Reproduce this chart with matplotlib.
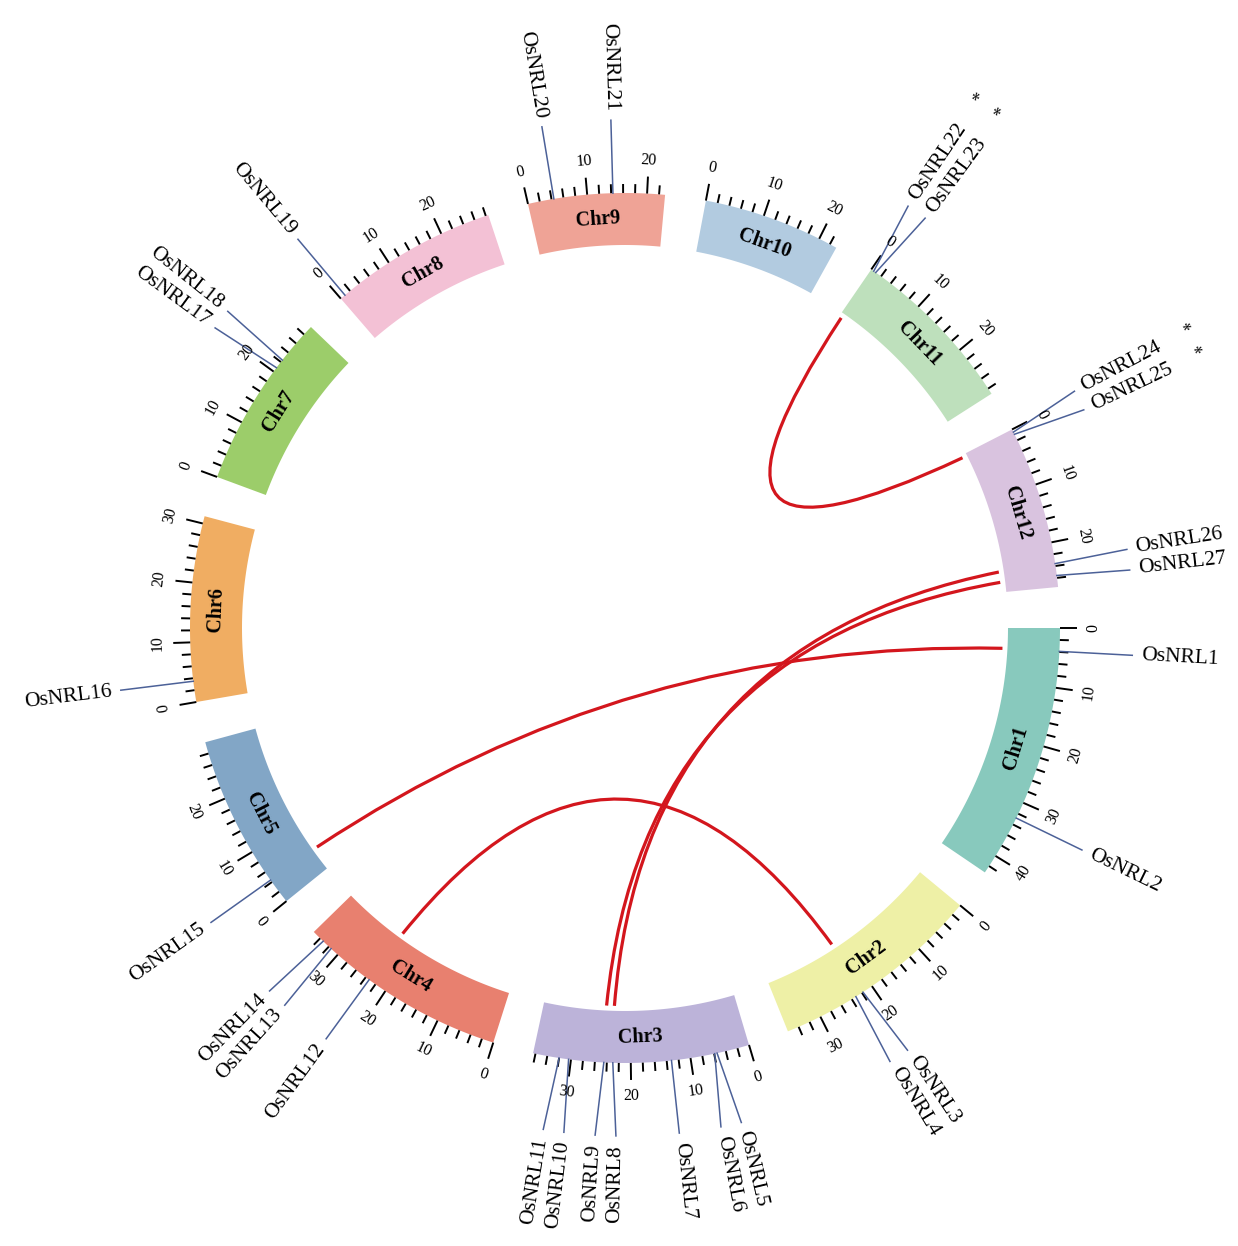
import numpy as np
import matplotlib
matplotlib.use("Agg")
import matplotlib.pyplot as plt
from matplotlib.patches import Polygon, PathPatch
from matplotlib.path import Path

# ---- data -------------------------------------------------------------
chroms = ["Chr1", "Chr2", "Chr3", "Chr4", "Chr5", "Chr6",
          "Chr7", "Chr8", "Chr9", "Chr10", "Chr11", "Chr12"]
chrom_len = [43.27, 35.94, 36.41, 35.50, 29.96, 31.25,
             29.70, 28.44, 23.01, 23.21, 29.02, 27.53]          # Mb
chrom_colors = ["#88C9BD", "#EEF0A6", "#BCB3D9", "#E8806F", "#82A6C6", "#F0AD62",
                "#9CCD6A", "#F3C1D5", "#EFA396", "#B2CBE0", "#BEE0BC", "#D9C3DF"]

genes = ["OsNRL1", "OsNRL2", "OsNRL3", "OsNRL4", "OsNRL5", "OsNRL6", "OsNRL7",
         "OsNRL8", "OsNRL9", "OsNRL10", "OsNRL11", "OsNRL12", "OsNRL13", "OsNRL14",
         "OsNRL15", "OsNRL16", "OsNRL17", "OsNRL18", "OsNRL19", "OsNRL20", "OsNRL21",
         "OsNRL22", "OsNRL23", "OsNRL24", "OsNRL25", "OsNRL26", "OsNRL27"]
gene_chr = ["Chr1", "Chr1", "Chr2", "Chr2", "Chr3", "Chr3", "Chr3",
            "Chr3", "Chr3", "Chr3", "Chr3", "Chr4", "Chr4", "Chr4",
            "Chr5", "Chr6", "Chr7", "Chr7", "Chr8", "Chr9", "Chr9",
            "Chr11", "Chr11", "Chr12", "Chr12", "Chr12", "Chr12"]
gene_pos = [3.9, 32.8, 21.8, 23.2, 5.5, 5.9, 13.2,
            23.0, 24.5, 30.4, 32.0, 23.3, 31.5, 33.3,
            4.4, 3.5, 20.8, 22.4, 0.9, 4.4, 14.3,
            0.5, 0.9, 0.5, 0.9, 23.6, 25.6]                       # Mb
starred = ["OsNRL22", "OsNRL23", "OsNRL24", "OsNRL25"]

links = [("OsNRL1", "OsNRL15"), ("OsNRL3", "OsNRL12"), ("OsNRL8", "OsNRL26"),
         ("OsNRL9", "OsNRL27"), ("OsNRL22", "OsNRL24")]

# ---- layout -----------------------------------------------------------
W, H = 1238, 1246
CX, CY = 625, 628
R_IN, R_OUT = 383, 435
R_LINK = 378
R_GENE_END = 508
R_GENE_TXT = 517
R_TICKLAB = 468
R_STAR = 637
START = 90.0          # compass degrees, clockwise from top
GAP = 5.43
DEG_PER_MB = 0.79
LINK_PULL = 0.1       # how far the bezier control point leaves the centre
SERIF = "Liberation Serif"
GENE_COLOR = "#4C6198"
LINK_COLOR = "#D3161D"

chrom_start = {}
a = START
for c, L in zip(chroms, chrom_len):
    chrom_start[c] = a
    a += L * DEG_PER_MB + GAP


def ang(chrom, pos):
    return chrom_start[chrom] + pos * DEG_PER_MB


def pt(theta, r):
    t = np.radians(theta)
    return CX + r * np.sin(t), CY - r * np.cos(t)


def tangent_rot(theta, flip):
    rot = -theta
    if flip:
        rot += 180
    return (rot + 180) % 360 - 180


fig = plt.figure(figsize=(W / 100, H / 100), dpi=100)
ax = fig.add_axes([0, 0, 1, 1])
ax.set_xlim(0, W)
ax.set_ylim(H, 0)
ax.axis("off")

# ---- chromosome blocks, ticks, labels ------------------------------
for c, L, col in zip(chroms, chrom_len, chrom_colors):
    a0, a1 = ang(c, 0), ang(c, L)
    th = np.linspace(a0, a1, 80)
    outer = [pt(t, R_OUT) for t in th]
    inner = [pt(t, R_IN) for t in th[::-1]]
    ax.add_patch(Polygon(outer + inner, closed=True, facecolor=col,
                         edgecolor="none", zorder=2))
    mid = (a0 + a1) / 2
    flip = 90 < (mid % 360) < 270
    x, y = pt(mid, (R_IN + R_OUT) / 2)
    ax.text(x, y, c, rotation=tangent_rot(mid, flip), ha="center", va="center",
            fontsize=14.5, fontweight="bold", family=SERIF, zorder=5,
            rotation_mode="anchor")
    for p in np.arange(0, L + 1e-6, 2):
        t = ang(c, p)
        major = (p % 10 == 0)
        x0, y0 = pt(t, R_OUT)
        x1, y1 = pt(t, R_OUT + (17 if major else 9))
        ax.plot([x0, x1], [y0, y1], color="black", lw=1.4, zorder=3,
                solid_capstyle="butt")
        if major:
            xl, yl = pt(t, R_TICKLAB)
            ax.text(xl, yl, f"{int(p)}", rotation=tangent_rot(t, flip),
                    ha="center", va="center", fontsize=11.5, family=SERIF,
                    rotation_mode="anchor", zorder=5)

# ---- gene labels ----------------------------------------------------
g_ang = np.array([ang(c, p) for c, p in zip(gene_chr, gene_pos)])
order = np.argsort(g_ang)
lab = g_ang[order].copy()
MIN_SEP = 2.35
for _ in range(200):
    for i in range(len(lab) - 1):
        d = lab[i + 1] - lab[i]
        if d < MIN_SEP:
            s = (MIN_SEP - d) / 2
            lab[i] -= s
            lab[i + 1] += s
label_ang = np.empty_like(lab)
label_ang[order] = lab

for name, t, tl in zip(genes, g_ang, label_ang):
    x0, y0 = pt(t, R_OUT)
    x1, y1 = pt(tl, R_GENE_END)
    ax.plot([x0, x1], [y0, y1], color=GENE_COLOR, lw=1.1, zorder=4)
    xt, yt = pt(tl, R_GENE_TXT)
    tm = tl % 360
    if tm < 180:
        rot, ha = 90 - tm, "left"
    else:
        rot, ha = 270 - tm, "right"
    ax.text(xt, yt, name, rotation=rot, ha=ha, va="center", fontsize=15.5,
            family=SERIF, rotation_mode="anchor", zorder=5)
    if name in starred:
        xs, ys = pt(tl, R_STAR)
        ax.text(xs, ys, "*", rotation=rot, ha="center", va="center",
                fontsize=14, family=SERIF, rotation_mode="anchor", zorder=5)

# ---- duplication links ---------------------------------------------
gidx = {g: i for i, g in enumerate(genes)}
for g1, g2 in links:
    p0 = np.array(pt(g_ang[gidx[g1]], R_LINK))
    p2 = np.array(pt(g_ang[gidx[g2]], R_LINK))
    centre = np.array([CX, CY])
    ctrl = centre + LINK_PULL * ((p0 + p2) / 2 - centre)
    path = Path([p0, ctrl, p2], [Path.MOVETO, Path.CURVE3, Path.CURVE3])
    ax.add_patch(PathPatch(path, facecolor="none", edgecolor=LINK_COLOR,
                           lw=2.3, zorder=1))

fig.savefig("out.png", dpi=100, facecolor="white")
